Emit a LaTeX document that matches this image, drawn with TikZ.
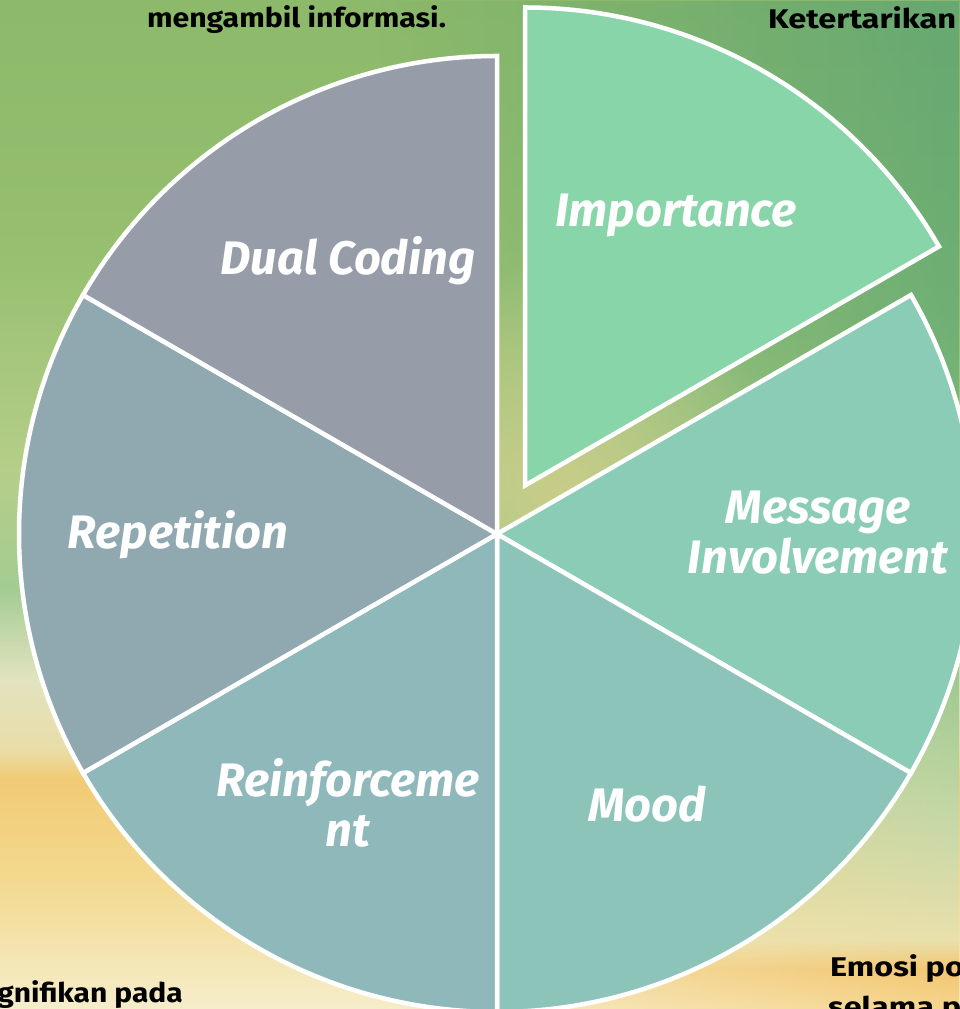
\documentclass[tikz,border=0pt]{standalone}
\usepackage{graphicx}
\usepackage{fontspec}
\setmainfont{Fira Sans}
\usetikzlibrary{fadings}

% slice fills
\definecolor{cImp}{HTML}{88D5A9}
\definecolor{cMsg}{HTML}{8ACCB5}
\definecolor{cMood}{HTML}{8CC4BA}
\definecolor{cReinf}{HTML}{8FB8BB}
\definecolor{cRep}{HTML}{90A8B0}
\definecolor{cDual}{HTML}{979DA8}

% watercolour backdrop, left column (bottom to top)
\definecolor{bgLa}{HTML}{F5EDCB}
\definecolor{bgLb}{HTML}{F3D98F}
\definecolor{bgLc}{HTML}{F1CB74}
\definecolor{bgLd}{HTML}{E9DDA8}
\definecolor{bgLe}{HTML}{E2E3C0}
\definecolor{bgLf}{HTML}{A3CC92}
\definecolor{bgLg}{HTML}{B5CE88}
\definecolor{bgLh}{HTML}{96BF6F}
\definecolor{bgLi}{HTML}{8CB96A}
% right column (bottom to top)
\definecolor{bgRa}{HTML}{F5D68E}
\definecolor{bgRb}{HTML}{F3C670}
\definecolor{bgRc}{HTML}{E9E0AC}
\definecolor{bgRd}{HTML}{C2D8A8}
\definecolor{bgRe}{HTML}{88BE7E}
\definecolor{bgRf}{HTML}{6FAF74}
\definecolor{bgRg}{HTML}{66A872}
\definecolor{cBlob}{HTML}{C8CD89}

\pgfdeclareverticalshading{leftwash}{100bp}{%
  color(0bp)=(bgLa); color(25bp)=(bgLa); color(31.4bp)=(bgLb);
  color(36.4bp)=(bgLc); color(37.89bp)=(bgLd); color(41.35bp)=(bgLe);
  color(45.82bp)=(bgLf); color(51.76bp)=(bgLg); color(62.66bp)=(bgLh);
  color(75bp)=(bgLi); color(100bp)=(bgLi)}
\pgfdeclareverticalshading{rightwash}{100bp}{%
  color(0bp)=(bgRa); color(25bp)=(bgRa); color(26.98bp)=(bgRb);
  color(28.47bp)=(bgRc); color(34.91bp)=(bgRd); color(45.82bp)=(bgRe);
  color(59.69bp)=(bgRf); color(75bp)=(bgRg); color(100bp)=(bgRg)}
\tikzfading[name=towardright, left color=transparent!100, right color=transparent!0]
\tikzfading[name=softblob, inner color=transparent!0, outer color=transparent!100]

\begin{document}
\begin{tikzpicture}[x=1pt,y=1pt,
  slice/.style={draw=white, line width=4.5pt, line join=miter},
  label/.style={text=white, font=\fontsize{47}{50}\selectfont\bfseries\itshape,
    align=center, inner sep=0pt},
  note/.style={text=black, font=\fontsize{27}{30}\selectfont\bfseries, inner sep=0pt}]
\useasboundingbox (0,0) rectangle (960,1009);
\begin{scope}
\clip (0,0) rectangle (960,1009);

% backdrop
\shade[shading=leftwash] (0,0) rectangle (960,1009);
\shade[shading=rightwash, path fading=towardright] (380,0) rectangle (960,1009);
\fill[cBlob, path fading=softblob] (560,520) circle (230);

% pie centre and radius
\coordinate (C) at (497,475);
\def\rad{478}

% exploded slice
\filldraw[slice, fill=cImp] (525,523.5) -- ++(30:\rad) arc[start angle=30, end angle=90, radius=\rad] -- cycle;
% remaining slices
\filldraw[slice, fill=cMsg]   (C) -- ++(-30:\rad) arc[start angle=-30, end angle=30,  radius=\rad] -- cycle;
\filldraw[slice, fill=cMood]  (C) -- ++(-90:\rad) arc[start angle=-90, end angle=-30, radius=\rad] -- cycle;
\filldraw[slice, fill=cReinf] (C) -- ++(210:\rad) arc[start angle=210, end angle=270, radius=\rad] -- cycle;
\filldraw[slice, fill=cRep]   (C) -- ++(150:\rad) arc[start angle=150, end angle=210, radius=\rad] -- cycle;
\filldraw[slice, fill=cDual]  (C) -- ++(90:\rad)  arc[start angle=90,  end angle=150, radius=\rad] -- cycle;

% slice labels (base = baseline of the last line)
\node[label, anchor=base] (imp)   at (676,782) {Importance};
\node[label, anchor=base] (dual)  at (348,734) {Dual Coding};
\node[label, anchor=base] (msg)   at (818,435) {Message\\Involvement};
\node[label, anchor=base] (rep)   at (178,460) {Repetition};
\node[label, anchor=base] (reinf) at (348,162) {Reinforceme\\nt};
\node[label, anchor=base] (mood)  at (647,187) {Mood};

% surrounding text
\node[note, anchor=base] (t1) at (296.5,981) {\scalebox{1.12}[1]{mengambil informasi.}};
\node[note, anchor=base west] (t2) at (768,980) {\scalebox{1.21}[1]{Ketertarikan}};
\node[note, anchor=base west] (t3) at (830,32) {\scalebox{1.2}[1]{Emosi po}};
\node[note, anchor=base west] (t4) at (828,-7) {\scalebox{1.2}[1]{selama p}};
\node[note, anchor=base east] (t5) at (183,6) {\scalebox{1.11}[1]{gnifikan pada}};
\end{scope}
\end{tikzpicture}
\end{document}
